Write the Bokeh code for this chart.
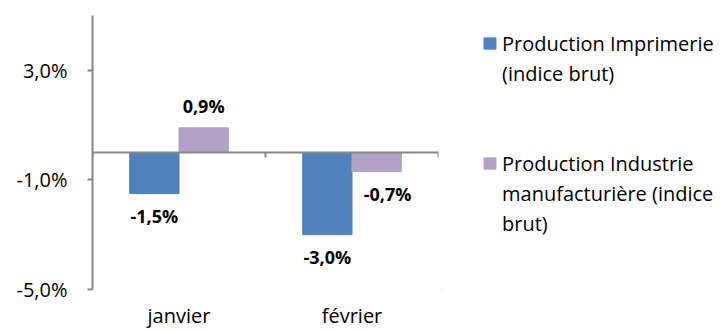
import numpy as np
from bokeh.plotting import figure
from bokeh.layouts import row
from bokeh.models import (ColumnDataSource, FactorRange, Range1d, FixedTicker,
                          CustomJSTickFormatter, Span, Legend, LegendItem)
from bokeh.transform import dodge
from bokeh.core.properties import value
from bokeh.embed import file_html
from bokeh.resources import INLINE

# ---- data ----
months = ["janvier", "février"]
imprimerie = [-1.5, -3.0]
industrie = [0.9, -0.7]
y_ticks = [-5.0, -1.0, 3.0]
legend_imprimerie = ["Production Imprimerie", "(indice brut)"]
legend_industrie = ["Production Industrie", "manufacturière (indice", "brut)"]

BLUE = "#4F81BD"
PURPLE = "#B2A1C7"
GREY = "#868686"
FONT = "Open Sans"

def fmt(v):
    return f"{v:.1f}".replace(".", ",") + "%"

src = ColumnDataSource(dict(
    mois=months,
    imp=imprimerie,
    ind=industrie,
    imp_lbl=[fmt(v) for v in imprimerie],
    ind_lbl=[fmt(v) for v in industrie],
    imp_off=[22 if v < 0 else -22 for v in imprimerie],
    ind_off=[22 if v < 0 else -22 for v in industrie],
    # Excel nudges a negative purple label sideways to clear the neighbouring bar
    ind_xoff=[11 if v < 0 else 0 for v in industrie],
))

p = figure(width=441, height=331, x_range=FactorRange(factors=months, range_padding=0),
           y_range=Range1d(-5, 5), output_backend="svg", toolbar_location=None,
           min_border_left=92, min_border_right=3, min_border_top=15,
           min_border_bottom=39)
p.outline_line_color = None
p.grid.visible = False
p.background_fill_color = "white"
p.border_fill_color = "white"

BW = 0.285
OFF = 0.1425
r_imp = p.vbar(x=dodge("mois", -OFF, range=p.x_range), top="imp", width=BW,
               source=src, fill_color=BLUE, line_color=BLUE)
r_ind = p.vbar(x=dodge("mois", OFF, range=p.x_range), top="ind", width=BW,
               source=src, fill_color=PURPLE, line_color=PURPLE)

# zero line (category axis line in the original)
p.add_layout(Span(location=0, dimension="width", line_color=GREY, line_width=2))
# category boundary tick marks
bounds = np.arange(len(months) + 1).astype(float)
p.segment(x0=bounds, x1=bounds, y0=[0.0] * len(bounds), y1=[-0.18] * len(bounds),
          line_color=GREY, line_width=2)

# value labels
p.text(x=dodge("mois", -OFF, range=p.x_range), y="imp", text="imp_lbl", y_offset="imp_off",
       source=src, text_font=value(FONT), text_font_size="18px", text_font_style="bold",
       text_align="center", text_baseline="middle", text_color="black")
p.text(x=dodge("mois", OFF, range=p.x_range), y="ind", text="ind_lbl", y_offset="ind_off",
       x_offset="ind_xoff",
       source=src, text_font=value(FONT), text_font_size="18px", text_font_style="bold",
       text_align="center", text_baseline="middle", text_color="black")

# y axis
ya = p.yaxis[0]
ya.ticker = FixedTicker(ticks=y_ticks)
ya.formatter = CustomJSTickFormatter(code="return tick.toFixed(1).replace('.', ',') + '%';")
ya.axis_line_color = GREY
ya.axis_line_width = 2
ya.major_tick_line_color = GREY
ya.major_tick_line_width = 2
ya.major_tick_out = 5
ya.major_tick_in = 0
ya.minor_tick_line_color = None
ya.major_label_standoff = 20
ya.major_label_text_font = FONT
ya.major_label_text_font_size = "20px"
ya.major_label_text_color = "black"

# x axis (labels only)
xa = p.xaxis[0]
xa.axis_line_color = None
xa.major_tick_line_color = None
xa.minor_tick_line_color = None
xa.major_tick_out = 0
xa.major_tick_in = 0
xa.major_label_standoff = 12
xa.major_label_text_font = FONT
xa.major_label_text_font_size = "20px"
xa.major_label_text_color = "black"

# ---- legend panel (separate canvas to the right of the chart) ----
pl = figure(width=287, height=331, x_range=Range1d(0, 1), y_range=Range1d(0, 1),
            output_backend="svg", toolbar_location=None,
            min_border_left=0, min_border_right=0, min_border_top=0, min_border_bottom=0)
pl.axis.visible = False
pl.grid.visible = False
pl.outline_line_color = None
pl.background_fill_color = "white"
pl.border_fill_color = "white"

# legend proxies: bars kept outside the visible range of this legend canvas
l_imp = pl.vbar(x=[-10], top=[-10], width=0.1, fill_color=BLUE, line_color=BLUE)
l_ind = pl.vbar(x=[-10], top=[-10], width=0.1, fill_color=PURPLE, line_color=PURPLE)
blank = pl.vbar(x=[-10], top=[-10], width=0.1, fill_alpha=0, line_alpha=0)

items = [LegendItem(label=legend_imprimerie[0], renderers=[l_imp])]
items += [LegendItem(label=t, renderers=[blank]) for t in legend_imprimerie[1:]]
items += [LegendItem(label="", renderers=[blank]) for _ in range(2)]
items += [LegendItem(label=legend_industrie[0], renderers=[l_ind])]
items += [LegendItem(label=t, renderers=[blank]) for t in legend_industrie[1:]]

legend = Legend(items=items, location=(41, 51), margin=0, padding=0, spacing=0,
                label_height=30, glyph_height=14, glyph_width=15, label_standoff=5,
                border_line_color=None, background_fill_alpha=0,
                label_text_font=FONT, label_text_font_size="20px",
                label_text_color="black", label_text_baseline="middle")
pl.add_layout(legend)

layout = row(p, pl, spacing=0)
open("out.html", "w").write(file_html(layout, INLINE))
